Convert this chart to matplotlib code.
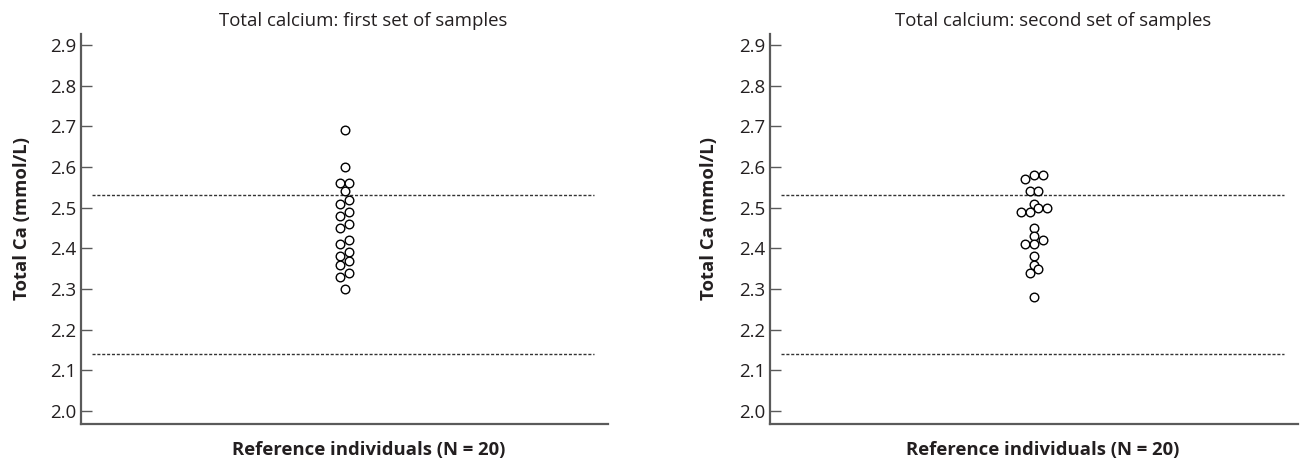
import numpy as np
import matplotlib
matplotlib.use("Agg")
import matplotlib.pyplot as plt

plt.rcParams["font.family"] = ["Open Sans", "DejaVu Sans"]

# total calcium (mmol/L), 20 reference individuals per set
first_set = [2.69, 2.60, 2.56, 2.56, 2.54, 2.52, 2.51, 2.49, 2.48, 2.46,
             2.45, 2.42, 2.41, 2.39, 2.38, 2.37, 2.36, 2.34, 2.33, 2.30]
second_set = [2.58, 2.58, 2.57, 2.54, 2.54, 2.51, 2.50, 2.50, 2.49, 2.49,
              2.45, 2.43, 2.42, 2.41, 2.41, 2.38, 2.36, 2.35, 2.34, 2.28]
titles = ["Total calcium: first set of samples",
          "Total calcium: second set of samples"]
ref_limits = [2.14, 2.53]
y_ticks = [2.0, 2.1, 2.2, 2.3, 2.4, 2.5, 2.6, 2.7, 2.8, 2.9]

TEXT = "#231f20"
AXIS = "#5a5a5a"


def dot_offsets(values, tol=0.015):
    """Group close values and spread each group symmetrically (units of one dot)."""
    values = np.asarray(values)
    order = np.argsort(values, kind="stable")
    groups = []
    for i in order:
        if groups and values[i] - values[groups[-1][0]] < tol:
            groups[-1].append(i)
        else:
            groups.append([i])
    off = np.zeros(len(values))
    for g in groups:
        n = len(g)
        for k, i in enumerate(g):
            off[i] = k - (n - 1) / 2
    return off


fig = plt.figure(figsize=(13, 4.63), dpi=100)
ax_boxes = [[0.0623, 0.0842, 0.4054, 0.8423],
            [0.5923, 0.0842, 0.4062, 0.8423]]
xlabel_x = [0.546, 0.517]
ylabel_x = [-0.094, -0.098]

for box, data, title, xlx, ylx in zip(ax_boxes, [first_set, second_set], titles,
                                      xlabel_x, ylabel_x):
    ax = fig.add_axes(box)
    ax.set_xlim(-1, 1)
    ax.set_ylim(1.968, 2.927)

    # dot spacing of ~8.8 px converted into data units
    px_per_unit = ax.transData.transform((1, 0))[0] - ax.transData.transform((0, 0))[0]
    step = 8.8 / px_per_unit
    xs = dot_offsets(data) * step
    ax.plot(xs, data, "o", ms=6.2, mfc="white", mec="black", mew=1.0,
            ls="none", zorder=3)

    for lim in ref_limits:
        ax.axhline(lim, xmin=0.021, xmax=0.973, color="#333333", lw=1.0,
                   ls=(0, (2.2, 1.3)), zorder=2)

    ax.set_yticks(y_ticks)
    ax.set_yticklabels([f"{t:.1f}" for t in y_ticks])
    ax.set_xticks([])
    ax.tick_params(axis="y", direction="in", length=8, width=1.0, color=AXIS,
                   pad=3.5, labelsize=13.5, labelcolor=TEXT)
    for side in ["top", "right"]:
        ax.spines[side].set_visible(False)
    for side in ["left", "bottom"]:
        ax.spines[side].set_color(AXIS)
        ax.spines[side].set_linewidth(1.6)

    ax.set_title(title, fontsize=13.4, color=TEXT, x=0.536, y=1.0, pad=6)
    ax.set_xlabel("Reference individuals (N = 20)", fontsize=13.3,
                  fontweight="bold", color=TEXT)
    ax.xaxis.set_label_coords(xlx, -0.044)
    ax.set_ylabel("Total Ca (mmol/L)", fontsize=13.3, fontweight="bold", color=TEXT)
    ax.yaxis.set_label_coords(ylx, 0.527)

fig.savefig("out.png", dpi=100)
